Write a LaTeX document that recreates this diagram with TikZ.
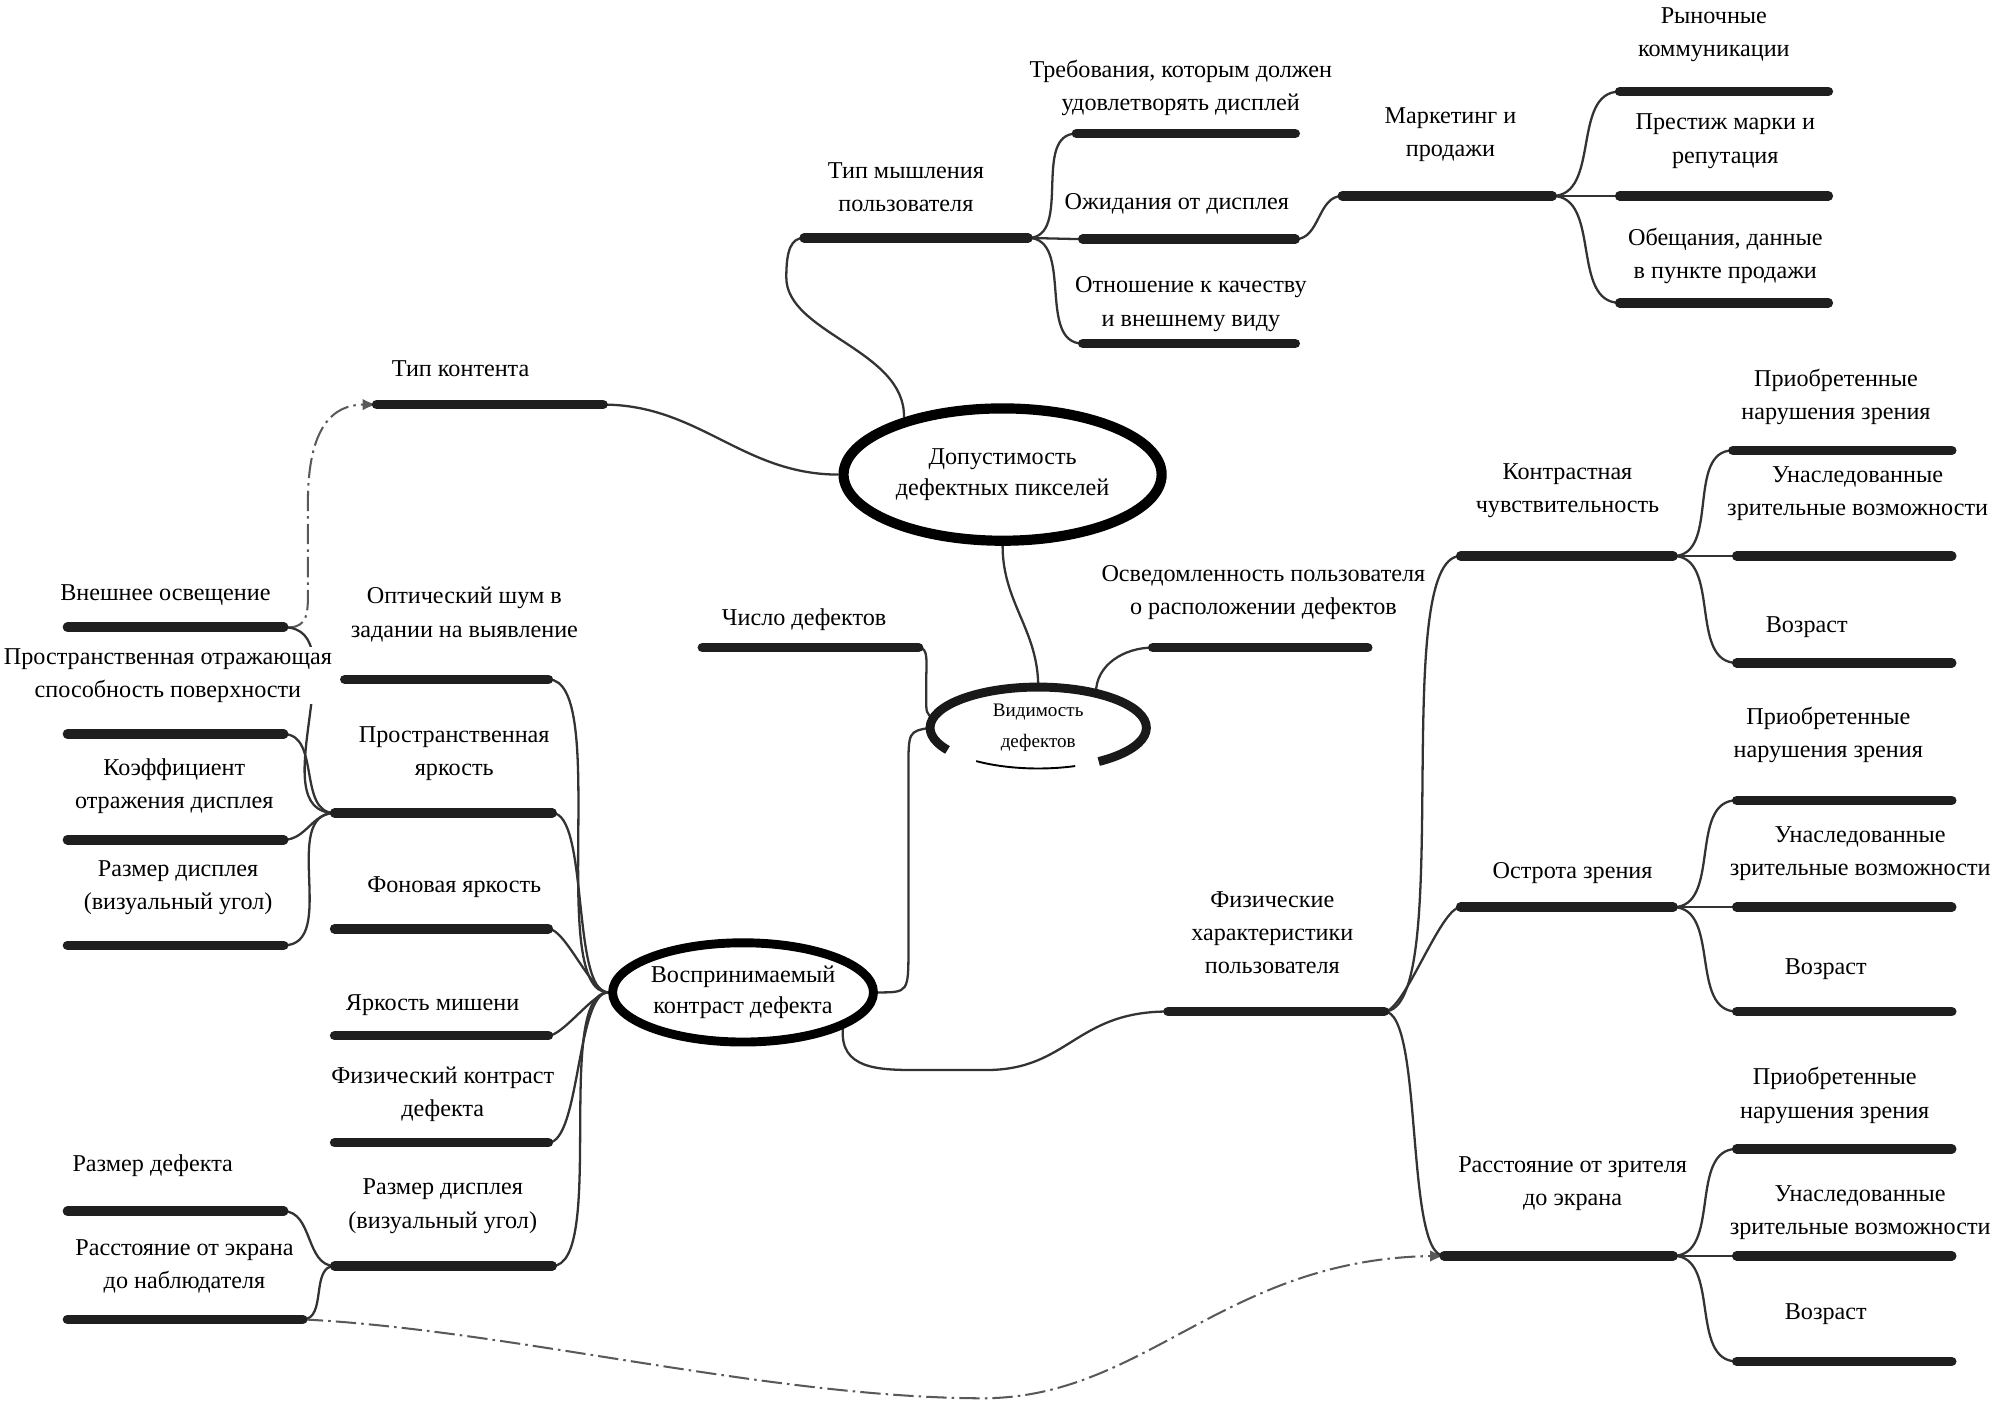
\documentclass[tikz,border=0pt]{standalone}
\usepackage{fontspec}
\setmainfont{Liberation Serif}
\usetikzlibrary{arrows.meta,shapes.geometric,backgrounds}

% bar with its label: name, x from, x to, y, label x, label y, text
\newcommand{\topic}[8][]{%
  \coordinate (#2L) at (#3,-#5);
  \coordinate (#2R) at (#4,-#5);
  \draw[bar] (#2L) -- (#2R);
  \node[lbl,#1] (#2) at (#6,-#7) {#8};}

\begin{document}
\begin{tikzpicture}[x=1pt, y=1pt,
	bar/.style={line width=7.5pt, line cap=round, black!88},
	link/.style={line width=1.8pt, black!80},
	rel/.style={line width=1.6pt, black!65, dash pattern=on 16pt off 4pt on 2pt off 4pt, -{Latex[length=11pt,width=9pt]}},
	lbl/.style={font=\fontsize{19}{26}\selectfont, align=center, inner sep=1pt},
	hub/.style={ellipse, draw, line width=7pt, fill=white, align=center, inner sep=0pt, font=\fontsize{19}{24}\selectfont},
	ring/.style={line width=7pt, black!90}]
	\useasboundingbox (0,0) rectangle (1568,-1105);

	\node[hub, line width=8pt, minimum width=250pt, minimum height=104pt] (dop) at (788,-373) {Допустимость\\дефектных пикселей};
	\node[hub, minimum width=204pt, minimum height=78pt] (vos) at (584,-780) {Воспринимаемый\\контраст дефекта};
	\node[ellipse, fill=white, minimum width=170pt, minimum height=64pt, align=center, inner sep=0pt, font=\fontsize{15}{24}\selectfont] (vid) at (816,-572) {Видимость\\дефектов};
	\draw[ring] ([shift={(-56:85pt and 32pt)}]vid.center) arc[start angle=-56, end angle=213, x radius=85pt, y radius=32pt];
	\draw[line width=1.5pt] ([shift={(235:85pt and 32pt)}]vid.center) arc[start angle=235, end angle=290, x radius=85pt, y radius=32pt];

	\topic{tm}{632}{808}{187}{712}{147}{Тип мышления\\пользователя}
	\topic{tr}{846}{1018}{105}{928}{69}{Требования, которым должен\\удовлетворять дисплей}
	\topic{od}{851}{1018}{188}{925}{160}{Ожидания от дисплея}
	\topic{ok}{851}{1018}{270}{936}{239}{Отношение к качеству\\и внешнему виду}
	\topic{mk}{1055}{1220}{154}{1140}{106}{Маркетинг и\\продажи}
	\topic{rk}{1273}{1437}{72}{1347}{27}{Рыночные\\коммуникации}
	\topic{pm}{1273}{1437}{154}{1356}{111}{Престиж марки и\\репутация}
	\topic{ob}{1273}{1437}{238}{1356}{201}{Обещания, данные\\в пункте продажи}
	\topic{tk}{296}{474}{318}{362}{290}{Тип контента}
	\topic{vo}{53}{223}{493}{130}{468}{Внешнее освещение}
	\topic[fill=white]{so}{53}{223}{577}{132}{531}{Пространственная отражающая\\способность поверхности}
	\topic{ko}{53}{223}{660}{137}{618}{Коэффициент\\отражения дисплея}
	\topic{rda}{53}{223}{743}{140}{698}{Размер дисплея\\(визуальный угол)}
	\topic{on}{271}{431}{534}{365}{483}{Оптический шум в\\задании на выявление}
	\topic{py}{263}{434}{639}{357}{592}{Пространственная\\яркость}
	\topic{fn}{263}{431}{730}{357}{697}{Фоновая яркость}
	\topic{ym}{263}{431}{814}{340}{790}{Яркость мишени}
	\topic{fk}{263}{431}{898}{348}{860}{Физический контраст\\дефекта}
	\topic{rdb}{263}{434}{995}{348}{948}{Размер дисплея\\(визуальный угол)}
	\topic{rf}{53}{223}{952}{120}{916}{Размер дефекта}
	\topic{re}{53}{238}{1037}{145}{995}{Расстояние от экрана\\до наблюдателя}
	\topic{cd}{552}{722}{509}{632}{487}{Число дефектов}
	\topic{ou}{906}{1075}{509}{993}{466}{Осведомленность пользователя\\о расположении дефектов}
	\topic{fh}{918}{1088}{795}{1000}{733}{Физические\\характеристики\\пользователя}
	\topic{kc}{1148}{1315}{437}{1232}{386}{Контрастная\\чувствительность}
	\topic{oz}{1148}{1315}{713}{1236}{686}{Острота зрения}
	\topic{rz}{1135}{1315}{987}{1236}{930}{Расстояние от зрителя\\до экрана}
	\topic{kca}{1362}{1534}{354}{1443}{312}{Приобретенные\\нарушения зрения}
	\topic{kcb}{1365}{1534}{437}{1460}{388}{Унаследованные\\зрительные возможности}
	\topic{kcc}{1365}{1534}{521}{1420}{493}{Возраст}
	\topic{oza}{1365}{1534}{629}{1437}{578}{Приобретенные\\нарушения зрения}
	\topic{ozb}{1365}{1534}{713}{1462}{671}{Унаследованные\\зрительные возможности}
	\topic{ozc}{1365}{1534}{795}{1435}{762}{Возраст}
	\topic{rza}{1365}{1534}{903}{1442}{861}{Приобретенные\\нарушения зрения}
	\topic{rzb}{1365}{1534}{987}{1462}{953}{Унаследованные\\зрительные возможности}
	\topic{rzc}{1365}{1534}{1070}{1435}{1033}{Возраст}

	\begin{pgfonlayer}{background}
	% upper part
	\draw[link] (dop.150) .. controls (712,-275) and (618,-262) .. (618,-218) .. controls (618,-196) and (622,-187) .. (tmL);
	\draw[link] (tmR) to[out=0,in=180] (trL);
	\draw[link] (tmR) -- (odL);
	\draw[link] (tmR) to[out=0,in=180] (okL);
	\draw[link] (odR) to[out=0,in=180] (mkL);
	\draw[link] (mkR) to[out=0,in=180] (rkL);
	\draw[link] (mkR) -- (pmL);
	\draw[link] (mkR) to[out=0,in=180] (obL);
	% left part
	\draw[link] (dop.west) to[out=180,in=0] (tkR);
	\draw[rel] (voR) .. controls (238,-494) and (242,-488) .. (242,-470) -- (242,-395) .. controls (242,-335) and (262,-318) .. (tkL);
	\draw[link] (pyL) to[out=180,in=0] (voR);
	\draw[link] (pyL) to[out=180,in=0] (soR);
	\draw[link] (pyL) to[out=180,in=0] (koR);
	\draw[link] (pyL) to[out=180,in=0] (rdaR);
	\draw[link] (onR) to[out=0,in=180,looseness=0.5] (vos.west);
	\draw[link] (pyR) to[out=0,in=180,looseness=0.5] (vos.west);
	\draw[link] (fnR) to[out=0,in=180,looseness=0.5] (vos.west);
	\draw[link] (ymR) to[out=0,in=180,looseness=0.5] (vos.west);
	\draw[link] (fkR) to[out=0,in=180,looseness=0.5] (vos.west);
	\draw[link] (rdbR) to[out=0,in=180,looseness=0.5] (vos.west);
	\draw[link] (rdbL) to[out=180,in=0] (rfR);
	\draw[link] (rdbL) to[out=180,in=0] (reR);
	\draw[rel] (reR) .. controls (400,-1045) and (600,-1098) .. (770,-1099) .. controls (900,-1100) and (960,-990) .. (rzL);
	% middle part
	\draw[link] (dop.south) to[out=-90,in=90] (vid.north);
	\draw[link] (cdR) .. controls (730,-509) and (728,-520) .. (728,-535) -- (728,-550) .. controls (728,-560) .. (vid.175);
	\draw[link] (vid.31) to[out=90,in=180] (ouL);
	\draw[link] (vos.east) .. controls (714,-780) .. (714,-745) -- (714,-605) .. controls (714,-575) .. (vid.west);
	\draw[link] (vos.-20) .. controls (660,-840) and (690,-841) .. (720,-841) -- (775,-841) .. controls (840,-841) and (845,-795) .. (fhL);
	% right part
	\draw[link] (fhR) to[out=0,in=180,looseness=0.4] (kcL);
	\draw[link] (fhR) to[out=0,in=180,looseness=0.4] (ozL);
	\draw[link] (fhR) to[out=0,in=180,looseness=0.4] (rzL);
	\draw[link] (kcR) to[out=0,in=180] (kcaL);
	\draw[link] (kcR) -- (kcbL);
	\draw[link] (kcR) to[out=0,in=180] (kccL);
	\draw[link] (ozR) to[out=0,in=180] (ozaL);
	\draw[link] (ozR) -- (ozbL);
	\draw[link] (ozR) to[out=0,in=180] (ozcL);
	\draw[link] (rzR) to[out=0,in=180] (rzaL);
	\draw[link] (rzR) -- (rzbL);
	\draw[link] (rzR) to[out=0,in=180] (rzcL);
	\end{pgfonlayer}
\end{tikzpicture}
\end{document}
